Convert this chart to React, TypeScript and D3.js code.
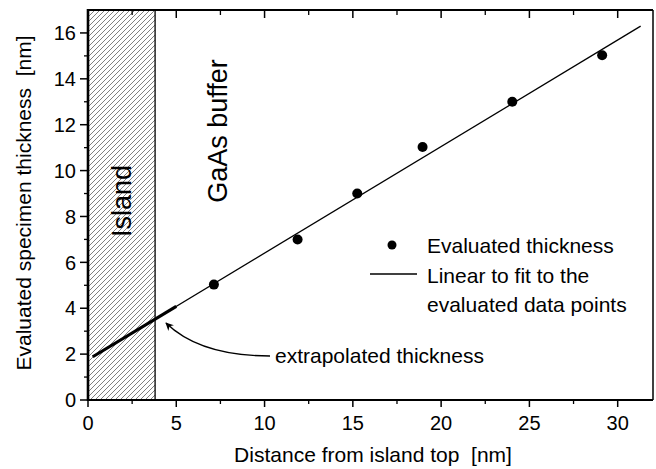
import React from "react";
import * as d3 from "d3";

const distance = [7.13, 11.87, 15.25, 18.95, 24.03, 29.12];
const thickness = [5.03, 7.0, 9.0, 11.03, 13.0, 15.03];
const fitSlope = 0.4644;
const fitIntercept = 1.76;
const fitRange = [0.27, 31.3];
const extrapRange = [0.27, 5.0];
const islandEdge = 3.8;
const xTicks = [0, 5, 10, 15, 20, 25, 30];
const yTicks = [0, 2, 4, 6, 8, 10, 12, 14, 16];

const W = 656;
const H = 469;
const FONT = "Arial, 'Liberation Sans', Helvetica, sans-serif";

export default function App() {
  const x = d3.scaleLinear().domain([0, 32]).range([88, 653]);
  const y = d3.scaleLinear().domain([0, 17]).range([400, 10]);
  const line = d3
    .line<number>()
    .x((d) => x(d))
    .y((d) => y(fitIntercept + fitSlope * d));

  const xMinor = d3.range(2.5, 32, 5);
  const yMinor = d3.range(1, 17, 2);
  const [x0, x1] = x.range();
  const [yb, yt] = y.range();

  const arrowStart = [270, 356];
  const arrowCtrl = [200, 356];
  const arrowEnd = [166, 323];

  return (
    <div style={{ position: "fixed", left: 0, top: 0 }}>
      <svg width={W} height={H} style={{ display: "block", background: "#fff" }} fontFamily={FONT}>
        <defs>
          <pattern id="hatch" patternUnits="userSpaceOnUse" width={5} height={5}>
            <path d="M-1,1 l2,-2 M0,5 l5,-5 M4,6 l2,-2" stroke="#555" strokeWidth={0.75} />
          </pattern>
          <marker id="arrow" viewBox="0 0 10 10" refX={9} refY={5} markerWidth={11} markerHeight={8} markerUnits="userSpaceOnUse" orient="auto">
            <path d="M0,0 L10,5 L0,10 L3,5 Z" fill="#000" />
          </marker>
        </defs>

        {/* island hatched region */}
        <rect x={x(0)} y={yt} width={x(islandEdge) - x(0)} height={yb - yt} fill="url(#hatch)" />
        <line x1={x(islandEdge)} x2={x(islandEdge)} y1={yt} y2={yb} stroke="#000" strokeWidth={1.3} />

        {/* fit line */}
        <path d={line(fitRange) || ""} fill="none" stroke="#000" strokeWidth={1.3} />
        <path d={line(extrapRange) || ""} fill="none" stroke="#000" strokeWidth={3.2} />

        {/* data points */}
        {distance.map((d, i) => (
          <circle key={i} cx={x(d)} cy={y(thickness[i])} r={5} fill="#000" />
        ))}

        {/* frame */}
        <line x1={x0} x2={x1} y1={yt} y2={yt} stroke="#000" strokeWidth={2} />
        <line x1={x1} x2={x1} y1={yt} y2={yb} stroke="#000" strokeWidth={1.5} />
        <line x1={x0 - 1} x2={x1} y1={yb} y2={yb} stroke="#000" strokeWidth={2} />
        <line x1={x0} x2={x0} y1={yt - 1} y2={yb + 1} stroke="#000" strokeWidth={2.6} />

        {/* bottom axis ticks */}
        {xTicks.map((t) => (
          <g key={"xb" + t}>
            <line x1={x(t)} x2={x(t)} y1={yb} y2={yb + 7} stroke="#000" strokeWidth={1.5} />
            <line x1={x(t)} x2={x(t)} y1={yt} y2={yt + 8} stroke="#000" strokeWidth={1.5} />
            <text x={x(t)} y={430} textAnchor="middle" fontSize={20}>{t}</text>
          </g>
        ))}
        {xMinor.map((t) => (
          <g key={"xm" + t}>
            <line x1={x(t)} x2={x(t)} y1={yb} y2={yb + 4} stroke="#000" strokeWidth={1.3} />
            <line x1={x(t)} x2={x(t)} y1={yt} y2={yt + 5} stroke="#000" strokeWidth={1.3} />
          </g>
        ))}

        {/* left axis ticks */}
        {yTicks.map((t) => (
          <g key={"y" + t}>
            <line x1={x0 - 8} x2={x0} y1={y(t)} y2={y(t)} stroke="#000" strokeWidth={1.5} />
            <text x={76} y={y(t)} dy="0.36em" textAnchor="end" fontSize={20}>{t}</text>
          </g>
        ))}
        {yMinor.map((t) => (
          <line key={"ym" + t} x1={x0 - 4} x2={x0} y1={y(t)} y2={y(t)} stroke="#000" strokeWidth={1.3} />
        ))}

        {/* axis titles */}
        <text x={373} y={462} textAnchor="middle" fontSize={21} style={{ whiteSpace: "pre" }}>
          {"Distance from island top  [nm]"}
        </text>
        <text transform="translate(31,203) rotate(-90)" textAnchor="middle" fontSize={21} style={{ whiteSpace: "pre" }}>
          {"Evaluated specimen thickness  [nm]"}
        </text>

        {/* region labels */}
        <text transform="translate(131,201) rotate(-90)" textAnchor="middle" fontSize={27}>Island</text>
        <text transform="translate(227,131) rotate(-90)" textAnchor="middle" fontSize={27}>GaAs buffer</text>

        {/* legend */}
        <circle cx={392} cy={245} r={4.5} fill="#000" />
        <text x={427} y={253} fontSize={21}>Evaluated thickness</text>
        <line x1={370} x2={417} y1={274} y2={274} stroke="#000" strokeWidth={1.3} />
        <text x={427} y={283} fontSize={21}>Linear to fit to the</text>
        <text x={427} y={312} fontSize={21}>evaluated data points</text>

        {/* annotation */}
        <path
          d={`M${arrowStart[0]},${arrowStart[1]} Q${arrowCtrl[0]},${arrowCtrl[1]} ${arrowEnd[0]},${arrowEnd[1]}`}
          fill="none"
          stroke="#000"
          strokeWidth={1.4}
          markerEnd="url(#arrow)"
        />
        <text x={275} y={363} fontSize={21}>extrapolated thickness</text>
      </svg>
    </div>
  );
}
